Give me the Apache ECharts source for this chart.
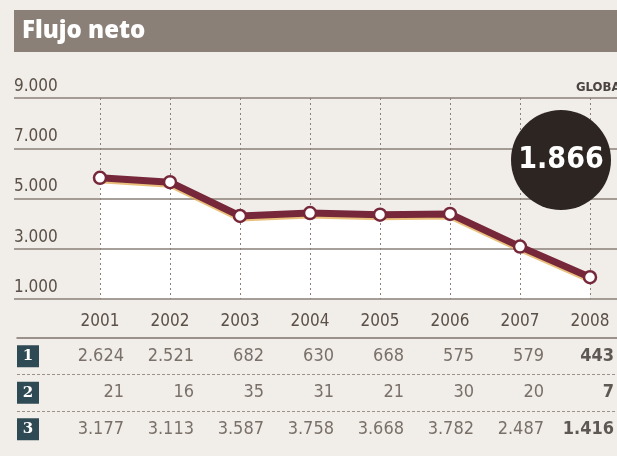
<!DOCTYPE html>
<html>
<head>
<meta charset="utf-8">
<script src="https://cdn.jsdelivr.net/npm/echarts@6/dist/echarts.min.js"></script>
<style>
html,body{margin:0;padding:0;background:#f1ede8;}
#c{width:617px;height:456px;}
</style>
</head>
<body>
<div id="c"></div>
<script>
// ---- data ----
var title = 'Flujo neto';
var tag = 'GLOBAL';
var years = ['2001','2002','2003','2004','2005','2006','2007','2008'];
var total = [5822, 5650, 4304, 4419, 4357, 4387, 3086, 1866];
var yTicks = [1000, 3000, 5000, 7000, 9000];
var rowNames = ['1','2','3'];
var row1 = [2624, 2521, 682, 630, 668, 575, 579, 443];
var row2 = [21, 16, 35, 31, 21, 30, 20, 7];
var row3 = [3177, 3113, 3587, 3758, 3668, 3782, 2487, 1416];
var rows = [row1, row2, row3];
var highlight = fmt(total[total.length - 1]);

function fmt(v){ return String(v).replace(/\B(?=(\d{3})+(?!\d))/g, '.'); }

var NARROW = "'DejaVu Sans Condensed','Liberation Sans Narrow',sans-serif";
var txt = '#5a5048';
var gridCol = '#8a8079';

var tableData = [];
rows.forEach(function(r, ri){
  r.forEach(function(v, i){
    var item = {value: [i, rowNames[ri], v]};
    if (i === years.length - 1) item.label = {fontWeight: 'bold', color: '#3a322d'};
    tableData.push(item);
  });
});
// separators between table rows (row boundaries)
var separators = [];
for (var k = 1; k < rowNames.length; k++) separators.push({yAxis: k});

var chart = echarts.init(document.getElementById('c'), null, {renderer: 'canvas'});
var xMinT = -83/70, xMaxT = xMinT + 600/70;

chart.setOption({
  backgroundColor: '#f1ede8',
  animation: false,
  grid: [
    {left: 14, right: 0, top: 98, height: 201},
    {left: 100, right: 27, top: 98, height: 201},
    {left: 17, right: 0, top: 338, height: 109.5}
  ],
  xAxis: [
    {gridIndex: 0, type: 'value', min: 0, max: 1, show: false},
    {gridIndex: 1, type: 'category', data: years, boundaryGap: false, z: 2,
     axisLine: {show: false}, axisTick: {show: false},
     axisLabel: {margin: 14, fontFamily: NARROW, fontSize: 17, color: txt},
     splitLine: {show: true, lineStyle: {type: [2, 3], color: gridCol, width: 1}}},
    {gridIndex: 2, type: 'value', min: xMinT, max: xMaxT, position: 'top', z: 3,
     axisLine: {show: true, onZero: false, lineStyle: {color: '#7d736b', width: 1.5}},
     axisTick: {show: false}, axisLabel: {show: false}, splitLine: {show: false}}
  ],
  yAxis: [
    {gridIndex: 0, type: 'value', min: yTicks[0], max: yTicks[yTicks.length - 1], interval: yTicks[1] - yTicks[0], z: 2,
     axisLine: {show: false}, axisTick: {show: false},
     splitLine: {show: true, lineStyle: {color: gridCol, width: 1.5}},
     axisLabel: {inside: true, margin: 0, verticalAlign: 'bottom', showMinLabel: true, showMaxLabel: true,
       padding: [0, 0, 3, 0], fontFamily: NARROW, fontSize: 17, color: txt,
       formatter: function(v){ return fmt(v); }}},
    {gridIndex: 1, type: 'value', min: yTicks[0], max: yTicks[yTicks.length - 1], show: false},
    {gridIndex: 2, type: 'category', data: rowNames, inverse: true, z: 2,
     axisLine: {show: false}, axisTick: {show: false}, splitLine: {show: false},
     axisLabel: {inside: true, margin: 11, align: 'center', verticalAlign: 'middle',
       backgroundColor: '#2e4a55', color: '#fff', fontWeight: 'bold',
       fontFamily: "'DejaVu Serif',serif", fontSize: 15, width: 22, height: 22, lineHeight: 22}},
    {gridIndex: 2, type: 'value', min: 0, max: rowNames.length, inverse: true, show: false}
  ],
  series: [
    {type: 'line', xAxisIndex: 1, yAxisIndex: 1, data: total, z: 1,
     symbol: 'none', lineStyle: {width: 0}, areaStyle: {color: '#ffffff', opacity: 1, origin: 'start'}},
    {type: 'line', xAxisIndex: 1, yAxisIndex: 1, data: total, z: 3,
     symbol: 'circle', symbolSize: 12,
     itemStyle: {color: '#ffffff', borderColor: '#76283a', borderWidth: 2.5},
     lineStyle: {color: '#76283a', width: 7, shadowColor: 'rgba(225,165,70,0.7)', shadowOffsetY: 2, shadowBlur: 0}},
    {type: 'scatter', xAxisIndex: 2, yAxisIndex: 2, data: tableData, symbolSize: 0,
     label: {show: true, position: 'inside', align: 'right', offset: [24, 0],
       fontFamily: NARROW, fontSize: 18, color: txt,
       formatter: function(p){ return fmt(p.value[2]); }}},
    {type: 'line', xAxisIndex: 2, yAxisIndex: 3, data: [], silent: true,
     markLine: {symbol: 'none', silent: true, label: {show: false},
       lineStyle: {type: [3, 2], color: '#9c928a', width: 1}, data: separators}}
  ],
  graphic: [
    {type: 'rect', shape: {x: 14, y: 10, width: 603, height: 42}, style: {fill: '#8b8078'}, z: 10},
    {type: 'text', x: 22, y: 31, z: 11,
     style: {text: title, fill: '#ffffff', font: "800 24px 'Open Sans',sans-serif", verticalAlign: 'middle'}},
    {type: 'text', x: 576, y: 88, z: 11,
     style: {text: tag, fill: '#4a433f', font: "bold 13px " + NARROW, verticalAlign: 'middle'}},
    {type: 'circle', shape: {cx: 561, cy: 160, r: 50}, style: {fill: '#2d2522'}, z: 10},
    {type: 'text', x: 561, y: 160, z: 11,
     style: {text: highlight, fill: '#ffffff', font: "bold 30px " + NARROW, align: 'center', verticalAlign: 'middle'}}
  ]
});
</script>
</body>
</html>
